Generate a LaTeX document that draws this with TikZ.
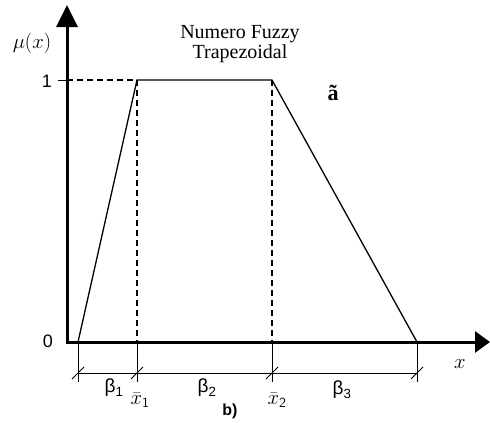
\documentclass[tikz,border=0pt]{standalone}
\usepackage{fontspec}
\setmainfont{Liberation Serif}
\newfontfamily\sffont{Liberation Sans}
\usetikzlibrary{arrows.meta, calc}
\tikzset{
  axisarrow/.style={-{Triangle[length=22pt, width=21pt]}, line width=3pt, black},
  axisarrow_short/.style={-{Triangle[length=15pt, width=21pt]}, line width=3pt, black},
  curveline/.style={line width=1.3pt, black},
  guideline/.style={line width=1.1pt, dash pattern=on 6pt off 4pt, black},
  dimline/.style={line width=0.9pt, black},
  ticklabel/.style={inner sep=1pt, font=\fontsize{18}{20}\selectfont\sffont},
  betalabel/.style={inner sep=0pt, font=\fontsize{19}{21}\selectfont\sffont},
  barlabel/.style={inner sep=0pt, font=\fontsize{20}{22}\selectfont}
}
\begin{document}
\begin{tikzpicture}[x=1pt, y=-1pt]
\useasboundingbox (0,0) rectangle (490,423);
% points of the trapezoid
\coordinate (o) at (67,342);
\coordinate (ytop) at (67,5);
\coordinate (xend) at (490,342);
\coordinate (p0) at (78,342);
\coordinate (p1) at (137,80);
\coordinate (p2) at (272,80);
\coordinate (p3) at (417,342);
\coordinate (one) at (67,80);
% axes
\draw[axisarrow] ($(o)+(0,1.5)$) -- (ytop);
\draw[axisarrow_short] ($(o)+(-1.5,0)$) -- (xend);
\draw[dimline] ($(one)+(-9,0)$) -- (one);
% guides
\draw[guideline] (one) -- (p1);
\draw[guideline] (p1) -- (p1 |- o);
\draw[guideline] (p2) -- (p2 |- o);
% trapezoid
\draw[curveline] (p0) -- (p1) -- (p2) -- (p3);
% dimensions
\foreach \p in {p0,p1,p2,p3}{
  \draw[dimline] (\p |- o) -- ($(\p |- o)+(0,40)$);
  \draw[dimline] ($(\p |- o)+(-6,37)$) -- ($(\p |- o)+(6,25)$);
}
\draw[dimline] ($(p0 |- o)+(0,31)$) -- ($(p3 |- o)+(0,31)$);
% labels
\node[ticklabel] (zero) at (48,341) {0};
\node[ticklabel] (unit) at (47,81) {1};
\node[inner sep=1pt, font=\fontsize{20}{22}\selectfont] (mu) at (32,43) {$\mu(x)$};
\node[inner sep=1pt, font=\fontsize{20}{22}\selectfont] (xlab) at (460,364) {$x$};
\node[align=center, inner sep=1pt, font=\fontsize{20}{17}\selectfont] (title) at (240,44) {Numero Fuzzy\\Trapezoidal};
\node[inner sep=1pt, font=\fontsize{22}{24}\selectfont\bfseries] (atil) at (333,93) {ã};
\node[betalabel] (b1) at (114,388) {β\textsubscript{1}};
\node[betalabel] (b2) at (207,388) {β\textsubscript{2}};
\node[betalabel] (b3) at (342,390) {β\textsubscript{3}};
\node[barlabel] (xb1) at (140,400) {$\bar{x}_{\mathsf{1}}$};
\node[barlabel] (xb2) at (277,400) {$\bar{x}_{\mathsf{2}}$};
\node[inner sep=1pt, font=\fontsize{16}{18}\selectfont\sffont\bfseries] (sub) at (230,411) {b)};
\end{tikzpicture}
\end{document}
